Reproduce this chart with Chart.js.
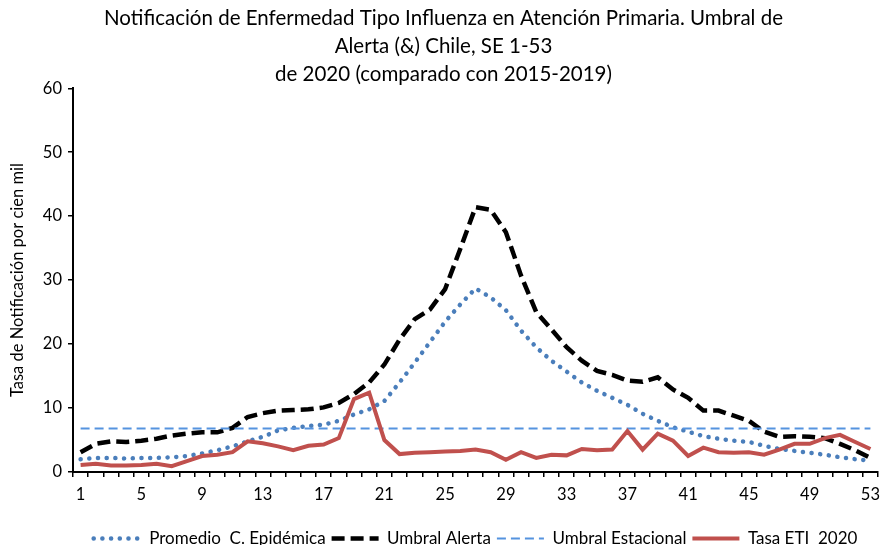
<!DOCTYPE html>
<html>
<head>
<meta charset="utf-8">
<script src="https://cdn.jsdelivr.net/npm/chart.js@4/dist/chart.umd.min.js"></script>
<style>
  html, body { margin: 0; padding: 0; background: #fff; }
  #myChart { display: block; }
</style>
</head>
<body>
<canvas id="myChart" width="888" height="545"></canvas>
<script>
// semanas epidemiologicas
const weeks = ['1','2','3','4','5','6','7','8','9','10','11','12','13','14','15','16','17','18','19','20',
  '21','22','23','24','25','26','27','28','29','30','31','32','33','34','35','36','37','38','39','40',
  '41','42','43','44','45','46','47','48','49','50','51','52','53'];

const promedio = [2.0, 2.2, 2.2, 2.1, 2.2, 2.2, 2.3, 2.5, 2.9, 3.4, 4.0, 4.8, 5.5, 6.5, 6.9, 7.2, 7.4, 8.0, 9.0, 9.8,
  11.1, 14.0, 17.1, 20.3, 23.5, 26.2, 28.7, 27.3, 25.3, 22.1, 19.5, 17.4, 15.7, 14.0, 12.7, 11.6, 10.5, 9.1, 8.0, 7.0,
  6.3, 5.6, 5.2, 4.9, 4.7, 4.1, 3.6, 3.3, 3.0, 2.7, 2.3, 2.0, 1.8];

const umbralAlerta = [3.1, 4.4, 4.8, 4.7, 4.9, 5.2, 5.7, 6.0, 6.2, 6.2, 6.9, 8.6, 9.2, 9.6, 9.7, 9.8, 10.1, 10.8, 12.2, 14.0,
  16.8, 20.7, 23.9, 25.4, 28.6, 34.9, 41.4, 41.0, 37.5, 30.7, 25.0, 22.3, 19.5, 17.4, 15.8, 15.2, 14.3, 14.1, 14.8, 12.9,
  11.6, 9.6, 9.6, 8.8, 8.0, 6.3, 5.5, 5.6, 5.5, 5.3, 4.4, 3.4, 2.2];

const umbralEstacional = [6.8, 6.8, 6.8, 6.8, 6.8, 6.8, 6.8, 6.8, 6.8, 6.8, 6.8, 6.8, 6.8, 6.8, 6.8, 6.8, 6.8, 6.8, 6.8, 6.8,
  6.8, 6.8, 6.8, 6.8, 6.8, 6.8, 6.8, 6.8, 6.8, 6.8, 6.8, 6.8, 6.8, 6.8, 6.8, 6.8, 6.8, 6.8, 6.8, 6.8,
  6.8, 6.8, 6.8, 6.8, 6.8, 6.8, 6.8, 6.8, 6.8, 6.8, 6.8, 6.8, 6.8];

const tasaETI = [1.1, 1.3, 1.0, 1.0, 1.1, 1.3, 0.9, 1.7, 2.5, 2.7, 3.1, 4.8, 4.5, 4.0, 3.4, 4.1, 4.3, 5.3, 11.4, 12.4,
  5.0, 2.8, 3.0, 3.1, 3.2, 3.3, 3.5, 3.1, 1.9, 3.1, 2.2, 2.7, 2.6, 3.6, 3.4, 3.5, 6.4, 3.5, 6.0, 4.9,
  2.5, 3.8, 3.1, 3.0, 3.1, 2.7, 3.5, 4.4, 4.4, 5.3, 5.8, 4.7, 3.6];

const yTicks = [0, 10, 20, 30, 40, 50, 60];

const titleLines = [
  'Notificación de Enfermedad Tipo Influenza en Atención Primaria. Umbral de',
  'Alerta (&) Chile, SE 1-53',
  'de 2020 (comparado con 2015-2019)'
];

const fontName = 'Lato, "Open Sans", sans-serif';

const chart = document.getElementById('myChart').getContext('2d');
const myChart = new Chart(chart, {
  type: 'line',
  data: {
    labels: weeks,
    datasets: [{
      label: 'Promedio  C. Epidémica',
      data: promedio,
      borderColor: '#4A7EBB',
      backgroundColor: '#4A7EBB',
      borderWidth: 4.5,
      borderDash: [0.1, 8.6],
      borderCapStyle: 'round',
      pointRadius: 0,
      order: 3
    }, {
      label: 'Umbral Alerta',
      data: umbralAlerta,
      borderColor: '#000000',
      backgroundColor: '#000000',
      borderWidth: 4.5,
      borderDash: [13, 6],
      pointRadius: 0,
      order: 2
    }, {
      label: 'Umbral Estacional',
      data: umbralEstacional,
      borderColor: '#5593DF',
      backgroundColor: '#5593DF',
      borderWidth: 1.8,
      borderDash: [9, 5],
      pointRadius: 0,
      order: 1
    }, {
      label: 'Tasa ETI  2020',
      data: tasaETI,
      borderColor: '#C0504D',
      backgroundColor: '#C0504D',
      borderWidth: 4,
      pointRadius: 0,
      order: 0
    }]
  },
  options: {
    responsive: false,
    animation: false,
    devicePixelRatio: 1,
    layout: { padding: { left: 0, right: 1, top: 0, bottom: -12 } },
    plugins: {
      title: {
        display: true,
        text: titleLines,
        color: '#000',
        font: { family: fontName, size: 20.5, weight: 'normal', lineHeight: 1.37 },
        padding: { top: 4, bottom: 0 }
      },
      legend: {
        position: 'bottom',
        fullSize: false,
        labels: {
          usePointStyle: true,
          pointStyleWidth: 47,
          color: '#000',
          font: { family: fontName, size: 17 },
          padding: 6,
          generateLabels: function(c) {
            return c.data.datasets.map((ds, i) => ({
              text: ds.label,
              datasetIndex: i,
              fillStyle: ds.borderColor,
              strokeStyle: ds.borderColor,
              fontColor: '#000',
              lineWidth: ds.borderWidth,
              lineDash: ds.borderDash || [],
              lineCap: ds.borderCapStyle || 'butt',
              pointStyle: 'line',
              hidden: false
            }));
          }
        }
      },
      tooltip: { enabled: false }
    },
    scales: {
      x: {
        offset: true,
        grid: { display: true, drawOnChartArea: false, drawTicks: true, tickLength: 5, offset: true, color: '#000', lineWidth: 1.5 },
        border: { display: true, color: '#000', width: 2 },
        ticks: {
          autoSkip: false,
          maxRotation: 0,
          padding: 8,
          color: '#000',
          font: { family: fontName, size: 16.5 },
          callback: function(value, index) {
            return index % 4 === 0 ? weeks[index] : '';
          }
        },
        afterFit: function(scale) { scale.height = 52; }
      },
      y: {
        min: 0,
        max: 60,
        afterBuildTicks: function(scale) { scale.ticks = yTicks.map(v => ({ value: v })); },
        grid: { display: true, drawOnChartArea: false, drawTicks: true, tickLength: 5, color: '#000', lineWidth: 1.5 },
        border: { display: true, color: '#000', width: 2 },
        ticks: { padding: 6, color: '#000', font: { family: fontName, size: 16.5 } },
        title: {
          display: true,
          text: 'Tasa de Notificación por cien mil',
          color: '#000',
          font: { family: fontName, size: 16.5 },
          padding: { top: 8, bottom: 0 }
        },
        afterFit: function(scale) { scale.width = 73; }
      }
    }
  }
});
</script>
</body>
</html>
